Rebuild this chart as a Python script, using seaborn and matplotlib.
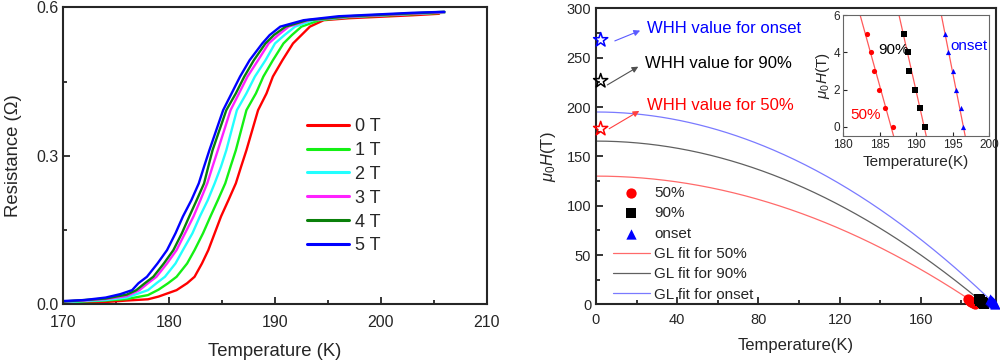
import numpy as np
import pandas as pd
import matplotlib
matplotlib.use("Agg")
import matplotlib.pyplot as plt
import seaborn as sns
from matplotlib.ticker import MultipleLocator

# ---------------- data: left panel R(T) ----------------
fields = ["0 T", "1 T", "2 T", "3 T", "4 T", "5 T"]
field_colors = ["#ff0000", "#14f014", "#22ffff", "#ff22ff", "#0a800a", "#0000ff"]

T_0T = [170, 172, 174, 176, 178, 179, 180.7, 181.7, 182.4, 183.1, 183.7, 184.3, 184.9, 185.6, 186.3, 186.8, 187.3, 188.4, 189.2, 189.8, 190.7, 191.7, 192.5, 193.3, 194.6, 197, 200, 203, 205.5]
R_0T = [0.002, 0.003, 0.004, 0.007, 0.0095, 0.015, 0.028, 0.042, 0.055, 0.082, 0.109, 0.143, 0.177, 0.210, 0.244, 0.278, 0.311, 0.392, 0.426, 0.460, 0.493, 0.527, 0.544, 0.561, 0.574, 0.578, 0.581, 0.584, 0.587]
T_1T = [170, 172, 174, 176, 178, 179.0, 179.9, 180.7, 181.7, 182.4, 183.2, 183.9, 184.6, 185.3, 185.8, 186.3, 187.3, 188.2, 188.9, 189.8, 190.8, 191.6, 192.5, 194.2, 197, 200, 203, 206]
R_1T = [0.003, 0.005, 0.007, 0.010, 0.018, 0.029, 0.042, 0.055, 0.082, 0.109, 0.143, 0.177, 0.210, 0.244, 0.278, 0.311, 0.392, 0.426, 0.460, 0.493, 0.527, 0.544, 0.561, 0.574, 0.580, 0.583, 0.586, 0.589]
T_2T = [170, 172, 174, 176, 178.0, 178.8, 179.6, 180.6, 181.3, 182.2, 182.9, 183.65, 184.3, 184.9, 185.4, 186.4, 187.3, 188.1, 189.1, 190.0, 190.9, 191.9, 193.6, 197, 200, 203, 206]
R_2T = [0.004, 0.006, 0.008, 0.013, 0.028, 0.042, 0.055, 0.082, 0.109, 0.143, 0.177, 0.210, 0.244, 0.278, 0.311, 0.392, 0.426, 0.460, 0.493, 0.527, 0.544, 0.561, 0.574, 0.581, 0.584, 0.587, 0.590]
T_3T = [170, 172, 174, 176, 177.2, 178.0, 178.8, 179.8, 180.7, 181.5, 182.3, 182.95, 183.6, 184.1, 184.6, 185.8, 186.6, 187.4, 188.4, 189.4, 190.3, 191.3, 193.2, 197, 200, 203, 206]
R_3T = [0.005, 0.007, 0.010, 0.016, 0.028, 0.042, 0.055, 0.082, 0.109, 0.143, 0.177, 0.210, 0.244, 0.278, 0.311, 0.392, 0.426, 0.460, 0.493, 0.527, 0.544, 0.561, 0.574, 0.581, 0.584, 0.587, 0.590]
T_4T = [170, 172, 174, 176, 176.9, 177.7, 178.5, 179.5, 180.4, 181.2, 181.9, 182.6, 183.3, 183.7, 184.1, 185.4, 186.3, 187.1, 188.0, 189.1, 189.9, 191.0, 193.0, 197, 200, 203, 206]
R_4T = [0.005, 0.008, 0.011, 0.019, 0.028, 0.042, 0.055, 0.082, 0.109, 0.143, 0.177, 0.210, 0.244, 0.278, 0.311, 0.392, 0.426, 0.460, 0.493, 0.527, 0.544, 0.561, 0.574, 0.582, 0.585, 0.588, 0.591]
T_5T = [170, 172, 174, 175.4, 176.5, 177.1, 177.9, 178.9, 179.8, 180.6, 181.3, 182.1, 182.8, 183.3, 183.8, 185.1, 185.9, 186.7, 187.6, 188.8, 189.5, 190.5, 192.7, 196, 200, 203, 206]
R_5T = [0.006, 0.008, 0.013, 0.020, 0.028, 0.042, 0.055, 0.082, 0.109, 0.143, 0.177, 0.210, 0.244, 0.278, 0.311, 0.392, 0.426, 0.460, 0.493, 0.527, 0.544, 0.561, 0.574, 0.582, 0.586, 0.589, 0.591]

curves_T = [T_0T, T_1T, T_2T, T_3T, T_4T, T_5T]
curves_R = [R_0T, R_1T, R_2T, R_3T, R_4T, R_5T]

# ---------------- data: right panel ----------------
H_levels = [5, 4, 3, 2, 1, 0]
T_50 = [183.3, 183.8, 184.2, 184.9, 185.8, 186.9]
T_90 = [188.4, 188.9, 189.1, 189.9, 190.5, 191.3]
T_onset = [194.0, 194.4, 195.0, 195.5, 196.1, 196.4]

series_labels = ["50%", "90%", "onset"]
series_colors = ["#ff0000", "#000000", "#0000ff"]
series_markers = ["o", "s", "^"]
fit_colors = ["#ff6a6a", "#606060", "#7a7aff"]
fit_labels = ["GL fit for 50%", "GL fit for 90%", "GL fit for onset"]

# GL fit parameters: Hc2(0) [T] and Tc [K]
GL_H0 = [130.0, 165.5, 195.0]
GL_Tc = [187.5, 191.5, 196.5]

# WHH values (stars)
WHH_T = [2.3, 2.3, 2.3]
WHH_H = [178.0, 226.5, 268.0]
WHH_text = ["WHH value for 50%", "WHH value for 90%", "WHH value for onset"]

# ---------------- style ----------------
sns.set_style("ticks")
plt.rcParams["font.family"] = ["Liberation Sans", "DejaVu Sans"]
plt.rcParams["mathtext.fontset"] = "custom"
plt.rcParams["mathtext.rm"] = "Liberation Sans"
plt.rcParams["mathtext.it"] = "Liberation Sans:italic"
plt.rcParams["axes.linewidth"] = 1.5

fig = plt.figure(figsize=(10, 3.6), dpi=100)

# ================= left panel =================
ax1 = fig.add_axes([0.0633, 0.1556, 0.4234, 0.824])
for lab, col, Tv, Rv in zip(fields, field_colors, curves_T, curves_R):
    sns.lineplot(x=Tv, y=Rv, color=col, lw=1.7, label=lab, ax=ax1, sort=False, estimator=None)
ax1.set_xlim(170, 210)
ax1.set_ylim(0, 0.6)
ax1.xaxis.set_major_locator(MultipleLocator(10))
ax1.xaxis.set_minor_locator(MultipleLocator(5))
ax1.yaxis.set_major_locator(MultipleLocator(0.3))
ax1.yaxis.set_minor_locator(MultipleLocator(0.15))
ax1.yaxis.set_major_formatter(matplotlib.ticker.FormatStrFormatter("%.1f"))
ax1.tick_params(which="both", direction="in", top=False, right=False, width=1.3, labelsize=11.5)
ax1.tick_params(which="major", length=5)
ax1.tick_params(which="minor", length=3)
ax1.tick_params(axis="x", pad=8)
ax1.set_xlabel("Temperature (K)", fontsize=13.3, labelpad=9)
ax1.set_ylabel("Resistance (\u03a9)", fontsize=13.3, labelpad=10)
leg1 = ax1.legend(loc="upper left", bbox_to_anchor=(0.307, 0.672), bbox_transform=fig.transFigure,
                  frameon=False, fontsize=13, handlelength=2.3, handletextpad=0.35,
                  labelspacing=0.38, borderpad=0, borderaxespad=0)
for h in leg1.get_lines():
    h.set_linewidth(2.2)

# ================= right panel =================
ax2 = fig.add_axes([0.596, 0.1546, 0.400, 0.822])
point_sets = [T_50, T_90, T_onset]
for lab, col, mk, Tv in zip(series_labels, series_colors, series_markers, point_sets):
    sns.scatterplot(x=Tv, y=H_levels, color=col, marker=mk, s=55, edgecolor=col,
                    linewidth=0, label=lab, ax=ax2, clip_on=False, zorder=4)
for lab, col, H0, Tc in zip(fit_labels, fit_colors, GL_H0, GL_Tc):
    Tg = np.linspace(0, Tc, 300)
    sns.lineplot(x=Tg, y=H0 * (1 - (Tg / Tc) ** 2), color=col, lw=0.9, label=lab, ax=ax2,
                 sort=False, estimator=None)

for Tw, Hw, col, txt in zip(WHH_T, WHH_H, series_colors, WHH_text):
    sns.scatterplot(x=[Tw], y=[Hw], marker="*", s=115, facecolor="none", edgecolor=col,
                    linewidth=1.1, ax=ax2, clip_on=False, zorder=5, legend=False)

arrow_tail = [(5.3, 176.6), (4.4, 221.0), (8.0, 266.0)]
arrow_head = [(22.5, 197.5), (22.0, 242.4), (23.0, 278.6)]
text_pos = [(25.0, 202.0), (24.0, 244.0), (25.0, 279.6)]
arrow_cols = ["#ff4040", "#505050", "#5a5aff"]
for tail, head, tp, col, acol, txt in zip(arrow_tail, arrow_head, text_pos, series_colors, arrow_cols, WHH_text):
    ax2.annotate("", xy=head, xytext=tail,
                 arrowprops=dict(arrowstyle="-|>", color=acol, lw=0.8, mutation_scale=9))
    ax2.text(tp[0], tp[1], txt, color=col, fontsize=12, va="center", ha="left")

ax2.set_xlim(0, 197)
ax2.set_ylim(0, 300)
ax2.xaxis.set_major_locator(MultipleLocator(40))
ax2.xaxis.set_minor_locator(MultipleLocator(20))
ax2.yaxis.set_major_locator(MultipleLocator(50))
ax2.yaxis.set_minor_locator(MultipleLocator(25))
ax2.tick_params(which="both", direction="in", top=False, right=False, width=1.3, labelsize=10.5)
ax2.tick_params(which="major", length=5)
ax2.tick_params(which="minor", length=3)
ax2.tick_params(axis="x", pad=6)
ax2.set_xlabel("Temperature(K)", fontsize=12, labelpad=8)
ax2.set_ylabel(r"$\mu_0H$(T)", fontsize=12, labelpad=6)

handles, labels = ax2.get_legend_handles_labels()
leg2 = ax2.legend(handles, labels, loc="upper left", bbox_to_anchor=(0.613, 0.484),
                  bbox_transform=fig.transFigure, frameon=False, fontsize=11,
                  handlelength=2.4, handletextpad=0.3, labelspacing=0.42,
                  borderpad=0, borderaxespad=0)

# ================= inset =================
ax3 = fig.add_axes([0.843, 0.622, 0.146, 0.336])
for col, mk, Tv in zip(series_colors, series_markers, point_sets):
    sns.scatterplot(x=Tv, y=H_levels, color=col, marker=mk, s=14, edgecolor=col,
                    linewidth=0, ax=ax3, legend=False, zorder=4)
    slope, icpt = np.polyfit(H_levels, Tv, 1)
    Hfit = np.array([-0.6, 6.2])
    sns.lineplot(x=slope * Hfit + icpt, y=Hfit, color="#ff5a5a", lw=0.9, ax=ax3,
                 sort=False, estimator=None, legend=False)
ax3.set_xlim(180, 200)
ax3.set_ylim(-0.5, 6)
ax3.xaxis.set_major_locator(MultipleLocator(5))
ax3.yaxis.set_major_locator(MultipleLocator(2))
ax3.tick_params(which="both", direction="in", width=0.8, length=3, labelsize=8.5, pad=2)
for sp in ax3.spines.values():
    sp.set_linewidth(0.8)
    sp.set_color("#666666")
ax3.set_xlabel("Temperature(K)", fontsize=11, labelpad=3)
ax3.set_ylabel(r"$\mu_0H$(T)", fontsize=11, labelpad=1)
ax3.text(184.8, 4.1, "90%", color="black", fontsize=11, va="center", ha="left")
ax3.text(194.7, 4.36, "onset", color="#0000ff", fontsize=11, va="center", ha="left")
ax3.text(181.05, 0.62, "50%", color="#ff0000", fontsize=11, va="center", ha="left")

fig.savefig("out.png", dpi=100)
